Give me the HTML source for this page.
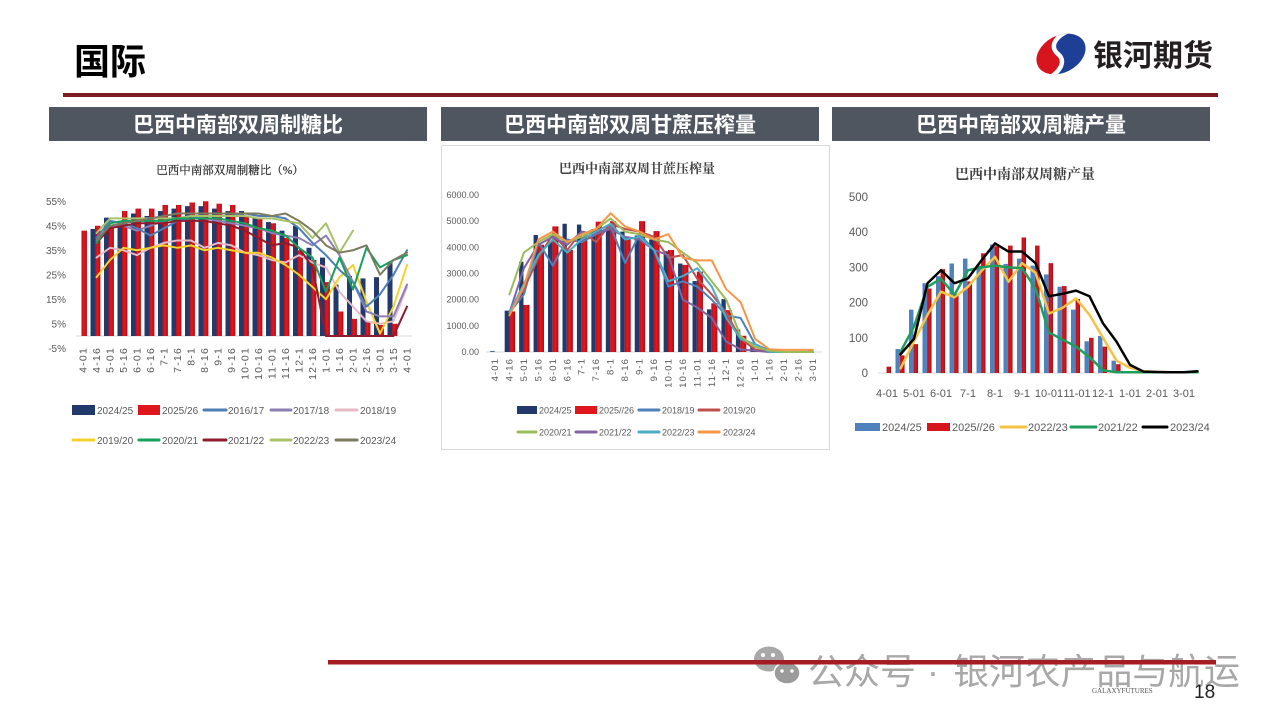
<!DOCTYPE html>
<html><head><meta charset="utf-8"><title>国际</title>
<style>
html,body{margin:0;padding:0;background:#fff;}
body{width:1280px;height:720px;overflow:hidden;}
svg{display:block;}
.cjk{font-family:"Liberation Sans","Noto Sans CJK SC",sans-serif;}
.serif{font-family:"Liberation Serif","Noto Serif CJK SC",serif;}
.ax{font-family:"Liberation Sans",sans-serif;fill:#595959;}
.ln{fill:none;vector-effect:non-scaling-stroke;stroke-linejoin:round;stroke-linecap:round;}
</style></head>
<body>
<svg width="1280" height="720" viewBox="0 0 1280 720" xmlns="http://www.w3.org/2000/svg">
<defs>
<linearGradient id="rg" x1="0" y1="0" x2="1" y2="0">
<stop offset="0" stop-color="#b0111a"/><stop offset="0.45" stop-color="#e8161e"/><stop offset="1" stop-color="#a80f16"/>
</linearGradient>
<linearGradient id="rg3" x1="0" y1="0" x2="1" y2="0">
<stop offset="0" stop-color="#a5141b"/><stop offset="0.5" stop-color="#e0141c"/><stop offset="1" stop-color="#9c1118"/>
</linearGradient>
<clipPath id="lg"><ellipse cx="1061" cy="54" rx="26" ry="18.5" transform="rotate(-28 1061 54)"/></clipPath>
</defs>

<!-- Header -->
<text x="74" y="74" class="cjk" font-size="36" font-weight="bold" fill="#000">国际</text>
<!-- logo -->
<g clip-path="url(#lg)">
<path d="M1000,20 L1080,28 C1062,30 1046,44 1058,54 C1068,62 1058,76 1040,82 L1000,90 Z" fill="#d7151e"/>
<path d="M1080,28 L1120,20 L1120,90 L1040,82 C1058,76 1068,62 1058,54 C1046,44 1062,30 1080,28 Z" fill="#1e3f96"/>
<path d="M1080,28 C1062,30 1046,44 1058,54 C1068,62 1058,76 1040,82" fill="none" stroke="#fff" stroke-width="4.5"/>
</g>
<text x="1093" y="66" class="cjk" font-size="30" font-weight="bold" fill="#231f20">银河期货</text>
<rect x="63" y="93" width="1155" height="4" fill="#7d1c21"/>

<!-- Section header boxes -->
<rect x="49" y="107" width="378" height="34" fill="#4f5660"/>
<rect x="441" y="107" width="378" height="34" fill="#4f5660"/>
<rect x="832" y="107" width="378" height="34" fill="#4f5660"/>
<text x="238" y="132" text-anchor="middle" class="cjk" font-size="21" font-weight="bold" fill="#fff">巴西中南部双周制糖比</text>
<text x="630" y="132" text-anchor="middle" class="cjk" font-size="21" font-weight="bold" fill="#fff">巴西中南部双周甘蔗压榨量</text>
<text x="1021" y="132" text-anchor="middle" class="cjk" font-size="21" font-weight="bold" fill="#fff">巴西中南部双周糖产量</text>

<!-- ===================== CHART 1 ===================== -->
<text x="230" y="174" text-anchor="middle" class="serif" font-size="11.5" fill="#262626" stroke="#262626" stroke-width="0.2">巴西中南部双周制糖比（%）</text>
<g class="ax" font-size="10" text-anchor="end">
<text x="66" y="205">55%</text>
<text x="66" y="229.5">45%</text>
<text x="66" y="254">35%</text>
<text x="66" y="278.5">25%</text>
<text x="66" y="303">15%</text>
<text x="66" y="327.5">5%</text>
<text x="66" y="352">-5%</text>
</g>
<line x1="76" y1="336" x2="412" y2="336" stroke="#d9d9d9" stroke-width="1"/>
<g transform="translate(83,336) scale(13.5,-2.45)">
<g fill="#213a6b">
<rect x="0.556" y="0" width="0.37" height="43.7"/>
<rect x="1.556" y="0" width="0.37" height="48.3"/>
<rect x="2.556" y="0" width="0.37" height="47"/>
<rect x="3.556" y="0" width="0.37" height="50"/>
<rect x="4.556" y="0" width="0.37" height="49"/>
<rect x="5.556" y="0" width="0.37" height="51"/>
<rect x="6.556" y="0" width="0.37" height="52"/>
<rect x="7.556" y="0" width="0.37" height="53"/>
<rect x="8.556" y="0" width="0.37" height="53"/>
<rect x="9.556" y="0" width="0.37" height="52"/>
<rect x="10.556" y="0" width="0.37" height="51"/>
<rect x="11.556" y="0" width="0.37" height="51"/>
<rect x="12.556" y="0" width="0.37" height="48"/>
<rect x="13.556" y="0" width="0.37" height="46.5"/>
<rect x="14.556" y="0" width="0.37" height="43"/>
<rect x="15.556" y="0" width="0.37" height="45"/>
<rect x="16.556" y="0" width="0.37" height="36"/>
<rect x="17.556" y="0" width="0.37" height="32"/>
<rect x="18.556" y="0" width="0.37" height="21"/>
<rect x="19.556" y="0" width="0.37" height="24.5"/>
<rect x="20.556" y="0" width="0.37" height="23.5"/>
<rect x="21.556" y="0" width="0.37" height="24"/>
<rect x="22.556" y="0" width="0.37" height="30"/>
</g>
<g fill="url(#rg)">
<rect x="-0.111" y="0" width="0.4" height="43"/>
<rect x="0.889" y="0" width="0.4" height="45"/>
<rect x="1.889" y="0" width="0.4" height="45"/>
<rect x="2.889" y="0" width="0.4" height="51"/>
<rect x="3.889" y="0" width="0.4" height="52"/>
<rect x="4.889" y="0" width="0.4" height="52"/>
<rect x="5.889" y="0" width="0.4" height="53.5"/>
<rect x="6.889" y="0" width="0.4" height="53.5"/>
<rect x="7.889" y="0" width="0.4" height="54.5"/>
<rect x="8.889" y="0" width="0.4" height="55"/>
<rect x="9.889" y="0" width="0.4" height="54"/>
<rect x="10.889" y="0" width="0.4" height="53.5"/>
<rect x="11.889" y="0" width="0.4" height="49"/>
<rect x="12.889" y="0" width="0.4" height="48"/>
<rect x="13.889" y="0" width="0.4" height="46"/>
<rect x="14.889" y="0" width="0.4" height="40"/>
<rect x="15.889" y="0" width="0.4" height="35"/>
<rect x="16.889" y="0" width="0.4" height="31"/>
<rect x="17.889" y="0" width="0.4" height="22"/>
<rect x="18.889" y="0" width="0.4" height="10"/>
<rect x="19.889" y="0" width="0.4" height="7"/>
<rect x="20.889" y="0" width="0.4" height="6"/>
<rect x="21.889" y="0" width="0.4" height="4.5"/>
<rect x="22.889" y="0" width="0.4" height="5"/>
</g>
<g stroke-width="2">
<polyline class="ln" stroke="#e7b9c6" points="1,32 2,36 3,35 4,33 5,36 6,38 7,39 8,39 9,36 10,38 11,37 12,34 13,33 14,31 15,30 16,33 17,30 18,28 19,18 20,12 21,6 22,5 23,6 24,20"/>
<polyline class="ln" stroke="#f5d22c" points="1,24 2,31 3,36 4,35 5,36 6,37 7,36 8,37 9,35 10,36 11,35 12,34 13,34 14,32 15,29 16,25 17,20 18,15 19,24 20,29 21,14 22,1 23,12 24,29"/>
<polyline class="ln" stroke="#8d7fb5" points="1,38 2,45 3,45 4,43 5,45 6,47 7,48 8,49 9,48 10,47 11,46 12,45 13,44 14,42 15,41 16,40 17,37 18,41 19,33 20,22 21,10 22,8 23,8 24,21"/>
<polyline class="ln" stroke="#4f7eb5" points="1,40 2,47 3,46 4,44 5,41 6,44 7,47 8,48 9,49 10,49 11,49 12,50 13,49 14,49 15,48 16,44 17,38 18,33 19,27 20,22 21,12 22,17 23,25 24,35"/>
<polyline class="ln" stroke="#8e1b2e" points="1,38 2,44 3,45 4,46 5,46 6,46 7,47 8,47 9,47 10,46 11,45 12,43 13,40 14,37 15,38 16,36 17,28 18,0 19,0 20,0 21,0 22,0 23,0 24,12"/>
<polyline class="ln" stroke="#a9c26a" points="1,42 2,48 3,48 4,48 5,48 6,48 7,48 8,49 9,49 10,49 11,49 12,49 13,48 14,48 15,47 16,46 17,40 18,46 19,34 20,43"/>
<polyline class="ln" stroke="#17a05d" points="1,38 2,46 3,47 4,47 5,47 6,47 7,48 8,48 9,48 10,48 11,47 12,46 13,44 14,43 15,41 16,36 17,32 18,18 19,32 20,19 21,36 22,28 23,31 24,33"/>
<polyline class="ln" stroke="#7b7b5f" points="1,39 2,45 3,46 4,47 5,48 6,49 7,50 8,50 9,50 10,50 11,50 12,50 13,50 14,49 15,50 16,47 17,43 18,37 19,34 20,35 21,37 22,25 23,31 24,34"/>
</g>
</g>
<g class="ax" font-size="10.5" letter-spacing="1.2" text-anchor="end">
<text transform="translate(86.5,347) rotate(-90)">4-01</text>
<text transform="translate(100,347) rotate(-90)">4-16</text>
<text transform="translate(113.5,347) rotate(-90)">5-01</text>
<text transform="translate(127,347) rotate(-90)">5-16</text>
<text transform="translate(140.5,347) rotate(-90)">6-01</text>
<text transform="translate(154,347) rotate(-90)">6-16</text>
<text transform="translate(167.5,347) rotate(-90)">7-1</text>
<text transform="translate(181,347) rotate(-90)">7-16</text>
<text transform="translate(194.5,347) rotate(-90)">8-1</text>
<text transform="translate(208,347) rotate(-90)">8-16</text>
<text transform="translate(221.5,347) rotate(-90)">9-1</text>
<text transform="translate(235,347) rotate(-90)">9-16</text>
<text transform="translate(248.5,347) rotate(-90)">10-01</text>
<text transform="translate(262,347) rotate(-90)">10-16</text>
<text transform="translate(275.5,347) rotate(-90)">11-01</text>
<text transform="translate(289,347) rotate(-90)">11-16</text>
<text transform="translate(302.5,347) rotate(-90)">12-1</text>
<text transform="translate(316,347) rotate(-90)">12-16</text>
<text transform="translate(329.5,347) rotate(-90)">1-01</text>
<text transform="translate(343,347) rotate(-90)">1-16</text>
<text transform="translate(356.5,347) rotate(-90)">2-01</text>
<text transform="translate(370,347) rotate(-90)">2-16</text>
<text transform="translate(383.5,347) rotate(-90)">3-01</text>
<text transform="translate(397,347) rotate(-90)">3-15</text>
<text transform="translate(410.5,347) rotate(-90)">4-01</text>
</g>
<!-- legend 1 -->
<rect x="72" y="405" width="23" height="10" fill="#213a6b"/>
<rect x="138" y="405" width="22" height="10" fill="#e0161d"/>
<g stroke-width="3" stroke-linecap="round">
<line x1="204" y1="410" x2="226" y2="410" stroke="#4f7eb5"/>
<line x1="271" y1="410" x2="291" y2="410" stroke="#8d7fb5"/>
<line x1="336" y1="410" x2="357" y2="410" stroke="#e7b9c6"/>
<line x1="73" y1="440" x2="94" y2="440" stroke="#f5d22c"/>
<line x1="139" y1="440" x2="159" y2="440" stroke="#17a05d"/>
<line x1="204" y1="440" x2="226" y2="440" stroke="#8e1b2e"/>
<line x1="271" y1="440" x2="291" y2="440" stroke="#a9c26a"/>
<line x1="336" y1="440" x2="357" y2="440" stroke="#7b7b5f"/>
</g>
<g class="ax" font-size="10">
<text x="97" y="414">2024/25</text>
<text x="162" y="414">2025/26</text>
<text x="228" y="414">2016/17</text>
<text x="293" y="414">2017/18</text>
<text x="360" y="414">2018/19</text>
<text x="97" y="444">2019/20</text>
<text x="162" y="444">2020/21</text>
<text x="228" y="444">2021/22</text>
<text x="293" y="444">2022/23</text>
<text x="360" y="444">2023/24</text>
</g>

<!-- ===================== CHART 2 ===================== -->
<rect x="441.5" y="145.5" width="388" height="304" fill="none" stroke="#d9d9d9" stroke-width="1"/>
<text x="637" y="173" text-anchor="middle" class="serif" font-size="13" font-weight="bold" fill="#404040">巴西中南部双周甘蔗压榨量</text>
<g class="ax" font-size="9" text-anchor="end">
<text x="479" y="198">6000.00</text>
<text x="479" y="224.2">5000.00</text>
<text x="479" y="250.3">4000.00</text>
<text x="479" y="276.5">3000.00</text>
<text x="479" y="302.7">2000.00</text>
<text x="479" y="328.8">1000.00</text>
<text x="479" y="355">0.00</text>
</g>
<line x1="486" y1="352" x2="822" y2="352" stroke="#d9d9d9" stroke-width="1"/>
<g transform="translate(495,352) scale(14.45,-0.02617)">
<g fill="#213a6b">
<rect x="-0.33" y="0" width="0.3" height="30"/>
<rect x="0.67" y="0" width="0.3" height="1580"/>
<rect x="1.67" y="0" width="0.3" height="3450"/>
<rect x="2.67" y="0" width="0.3" height="4470"/>
<rect x="3.67" y="0" width="0.3" height="4200"/>
<rect x="4.67" y="0" width="0.3" height="4900"/>
<rect x="5.67" y="0" width="0.3" height="4870"/>
<rect x="6.67" y="0" width="0.3" height="4700"/>
<rect x="7.67" y="0" width="0.3" height="4800"/>
<rect x="8.67" y="0" width="0.3" height="4600"/>
<rect x="9.67" y="0" width="0.3" height="4450"/>
<rect x="10.67" y="0" width="0.3" height="4300"/>
<rect x="11.67" y="0" width="0.3" height="3850"/>
<rect x="12.67" y="0" width="0.3" height="3380"/>
<rect x="13.67" y="0" width="0.3" height="2710"/>
<rect x="14.67" y="0" width="0.3" height="1630"/>
<rect x="15.67" y="0" width="0.3" height="2020"/>
<rect x="16.67" y="0" width="0.3" height="860"/>
<rect x="17.67" y="0" width="0.3" height="180"/>
<rect x="21.67" y="0" width="0.3" height="70"/>
</g>
<g fill="url(#rg)">
<rect x="-0.03" y="0" width="0.42" height="1550" transform="translate(1,0)"/>
<rect x="1.97" y="0" width="0.42" height="1800"/>
<rect x="2.97" y="0" width="0.42" height="4100"/>
<rect x="3.97" y="0" width="0.42" height="4800"/>
<rect x="4.97" y="0" width="0.42" height="3900"/>
<rect x="5.97" y="0" width="0.42" height="4450"/>
<rect x="6.97" y="0" width="0.42" height="4980"/>
<rect x="7.97" y="0" width="0.42" height="5000"/>
<rect x="8.97" y="0" width="0.42" height="4400"/>
<rect x="9.97" y="0" width="0.42" height="5000"/>
<rect x="10.97" y="0" width="0.42" height="4620"/>
<rect x="11.97" y="0" width="0.42" height="3900"/>
<rect x="12.97" y="0" width="0.42" height="3330"/>
<rect x="13.97" y="0" width="0.42" height="3070"/>
<rect x="14.97" y="0" width="0.42" height="1860"/>
<rect x="15.97" y="0" width="0.42" height="1600"/>
<rect x="16.97" y="0" width="0.42" height="620"/>
<rect x="17.97" y="0" width="0.42" height="60"/>
</g>
<g stroke-width="2">
<polyline class="ln" stroke="#4f81bd" points="1,1500 2,2200 3,4200 4,3300 5,4300 6,4200 7,4500 8,4800 9,3400 10,4500 11,3900 12,2500 13,2700 14,2500 15,2000 16,1400 17,1300 18,300 19,50 20,0 21,0 22,0"/>
<polyline class="ln" stroke="#c0504d" points="1,1500 2,2400 3,3600 4,4500 5,3900 6,4600 7,4200 8,4900 9,4700 10,4600 11,4400 12,3600 13,3700 14,2800 15,2200 16,1500 17,500 18,100 19,0 20,0 21,0 22,0"/>
<polyline class="ln" stroke="#8064a2" points="1,1500 2,3200 3,4100 4,4400 5,4100 6,4600 7,4500 8,4700 9,4400 10,4300 11,3900 12,3700 13,2000 14,1700 15,1300 16,400 17,100 18,50 19,0 20,0 21,0 22,0"/>
<polyline class="ln" stroke="#4bacc6" points="1,1500 2,2600 3,3700 4,4300 5,3800 6,4300 7,4600 8,4900 9,4300 10,4400 11,3900 12,2700 13,2900 14,3200 15,2500 16,1300 17,500 18,300 19,0 20,0 21,0 22,0"/>
<polyline class="ln" stroke="#9bbb59" points="1,2200 2,3800 3,4200 4,4500 5,4200 6,4400 7,4700 8,5100 9,4600 10,4500 11,4300 12,4200 13,3800 14,3400 15,2700 16,2000 17,600 18,200 19,50 20,0 21,0 22,0"/>
<polyline class="ln" stroke="#f79646" points="1,1400 2,2500 3,4300 4,4600 5,4200 6,4500 7,4700 8,5300 9,4800 10,4600 11,4300 12,4500 13,3600 14,3500 15,3500 16,2400 17,1900 18,500 19,100 20,80 21,80 22,80"/>
</g>
</g>
<g class="ax" font-size="9.5" letter-spacing="1.1" text-anchor="end">
<text transform="translate(498,358) rotate(-90)">4-01</text>
<text transform="translate(512.5,358) rotate(-90)">4-16</text>
<text transform="translate(526.9,358) rotate(-90)">5-01</text>
<text transform="translate(541.4,358) rotate(-90)">5-16</text>
<text transform="translate(555.8,358) rotate(-90)">6-01</text>
<text transform="translate(570.3,358) rotate(-90)">6-16</text>
<text transform="translate(584.7,358) rotate(-90)">7-1</text>
<text transform="translate(599.2,358) rotate(-90)">7-16</text>
<text transform="translate(613.6,358) rotate(-90)">8-1</text>
<text transform="translate(628.1,358) rotate(-90)">8-16</text>
<text transform="translate(642.5,358) rotate(-90)">9-1</text>
<text transform="translate(657,358) rotate(-90)">9-16</text>
<text transform="translate(671.4,358) rotate(-90)">10-01</text>
<text transform="translate(685.9,358) rotate(-90)">10-16</text>
<text transform="translate(700.3,358) rotate(-90)">11-01</text>
<text transform="translate(714.8,358) rotate(-90)">11-16</text>
<text transform="translate(729.2,358) rotate(-90)">12-1</text>
<text transform="translate(743.7,358) rotate(-90)">12-16</text>
<text transform="translate(758.1,358) rotate(-90)">1-01</text>
<text transform="translate(772.6,358) rotate(-90)">1-16</text>
<text transform="translate(787,358) rotate(-90)">2-01</text>
<text transform="translate(801.5,358) rotate(-90)">2-16</text>
<text transform="translate(815.9,358) rotate(-90)">3-01</text>
</g>
<!-- legend 2 -->
<rect x="517" y="406" width="20" height="8" fill="#213a6b"/>
<rect x="575" y="406" width="22" height="8" fill="#e0161d"/>
<g stroke-width="3" stroke-linecap="round">
<line x1="639" y1="410" x2="659" y2="410" stroke="#4f81bd"/>
<line x1="699" y1="410" x2="719" y2="410" stroke="#c0504d"/>
<line x1="518" y1="432" x2="536" y2="432" stroke="#9bbb59"/>
<line x1="576" y1="432" x2="596" y2="432" stroke="#8064a2"/>
<line x1="639" y1="432" x2="659" y2="432" stroke="#4bacc6"/>
<line x1="699" y1="432" x2="719" y2="432" stroke="#f79646"/>
</g>
<g class="ax" font-size="9">
<text x="539" y="413.5">2024/25</text>
<text x="599" y="413.5">2025//26</text>
<text x="662" y="413.5">2018/19</text>
<text x="723" y="413.5">2019/20</text>
<text x="539" y="435.5">2020/21</text>
<text x="599" y="435.5">2021/22</text>
<text x="662" y="435.5">2022/23</text>
<text x="723" y="435.5">2023/24</text>
</g>

<!-- ===================== CHART 3 ===================== -->
<text x="1025" y="179" text-anchor="middle" class="serif" font-size="14" font-weight="bold" fill="#404040">巴西中南部双周糖产量</text>
<g class="ax" font-size="11.5" text-anchor="end">
<text x="868" y="201">500</text>
<text x="868" y="236.2">400</text>
<text x="868" y="271.4">300</text>
<text x="868" y="306.6">200</text>
<text x="868" y="341.8">100</text>
<text x="868" y="377">0</text>
</g>
<line x1="878" y1="373" x2="1200" y2="373" stroke="#d9d9d9" stroke-width="1"/>
<g transform="translate(887,373) scale(13.5,-0.352)">
<g fill="#4f81bd">
<rect x="0.63" y="0" width="0.33" height="68"/>
<rect x="1.63" y="0" width="0.33" height="180"/>
<rect x="2.63" y="0" width="0.33" height="255"/>
<rect x="3.63" y="0" width="0.33" height="275"/>
<rect x="4.63" y="0" width="0.33" height="311"/>
<rect x="5.63" y="0" width="0.33" height="325"/>
<rect x="6.63" y="0" width="0.33" height="305"/>
<rect x="7.63" y="0" width="0.33" height="365"/>
<rect x="8.63" y="0" width="0.33" height="310"/>
<rect x="9.63" y="0" width="0.33" height="325"/>
<rect x="10.63" y="0" width="0.33" height="305"/>
<rect x="11.63" y="0" width="0.33" height="280"/>
<rect x="12.63" y="0" width="0.33" height="245"/>
<rect x="13.63" y="0" width="0.33" height="180"/>
<rect x="14.63" y="0" width="0.33" height="90"/>
<rect x="15.63" y="0" width="0.33" height="105"/>
<rect x="16.63" y="0" width="0.33" height="35"/>
<rect x="17.63" y="0" width="0.33" height="5"/>
</g>
<g fill="url(#rg3)">
<rect x="-0.03" y="0" width="0.33" height="18"/>
<rect x="0.97" y="0" width="0.33" height="50"/>
<rect x="1.97" y="0" width="0.33" height="82"/>
<rect x="2.97" y="0" width="0.33" height="240"/>
<rect x="3.97" y="0" width="0.33" height="295"/>
<rect x="4.97" y="0" width="0.33" height="225"/>
<rect x="5.97" y="0" width="0.33" height="260"/>
<rect x="6.97" y="0" width="0.33" height="340"/>
<rect x="7.97" y="0" width="0.33" height="360"/>
<rect x="8.97" y="0" width="0.33" height="362"/>
<rect x="9.97" y="0" width="0.33" height="385"/>
<rect x="10.97" y="0" width="0.33" height="362"/>
<rect x="11.97" y="0" width="0.33" height="312"/>
<rect x="12.97" y="0" width="0.33" height="247"/>
<rect x="13.97" y="0" width="0.33" height="210"/>
<rect x="14.97" y="0" width="0.33" height="100"/>
<rect x="15.97" y="0" width="0.33" height="75"/>
<rect x="16.97" y="0" width="0.33" height="25"/>
<rect x="17.97" y="0" width="0.33" height="3"/>
</g>
<g stroke-width="2.5">
<polyline class="ln" stroke="#f5c343" points="1,13 2,90 3,165 4,231 5,215 6,245 7,290 8,330 9,259 10,312 11,285 12,169 13,185 14,212 15,165 16,100 17,35 18,15 19,5 20,3 21,2 22,2 23,2"/>
<polyline class="ln" stroke="#1e9e5e" points="1,60 2,132 3,245 4,268 5,222 6,292 7,300 8,305 9,300 10,298 11,240 12,115 13,95 14,75 15,45 16,8 17,2 18,2 19,2 20,2 21,2 22,2 23,2"/>
<polyline class="ln" stroke="#000000" points="1,53 2,97 3,255 4,292 5,255 6,269 7,320 8,368 9,345 10,345 11,312 12,218 13,225 14,234 15,218 16,141 17,89 18,23 19,4 20,3 21,2 22,2 23,5"/>
</g>
</g>
<g class="ax" font-size="11" text-anchor="middle">
<text x="887" y="397">4-01</text>
<text x="914" y="397">5-01</text>
<text x="941" y="397">6-01</text>
<text x="968" y="397">7-1</text>
<text x="995" y="397">8-1</text>
<text x="1022" y="397">9-1</text>
<text x="1049" y="397">10-01</text>
<text x="1077" y="397">11-01</text>
<text x="1103" y="397">12-1</text>
<text x="1130" y="397">1-01</text>
<text x="1157" y="397">2-01</text>
<text x="1184" y="397">3-01</text>
</g>
<!-- legend 3 -->
<rect x="855" y="423" width="25" height="8" fill="#4f81bd"/>
<rect x="927" y="423" width="23" height="8" fill="#d7151e"/>
<g stroke-width="3" stroke-linecap="round">
<line x1="1001" y1="427" x2="1026" y2="427" stroke="#f5c343"/>
<line x1="1071" y1="427" x2="1096" y2="427" stroke="#1e9e5e"/>
<line x1="1143" y1="427" x2="1167" y2="427" stroke="#000"/>
</g>
<g class="ax" font-size="11">
<text x="882" y="431">2024/25</text>
<text x="952" y="431">2025//26</text>
<text x="1028" y="431">2022/23</text>
<text x="1098" y="431">2021/22</text>
<text x="1170" y="431">2023/24</text>
</g>

<!-- Footer -->
<g opacity="0.85">
<ellipse cx="769" cy="659" rx="15" ry="12.5" fill="#9a9a9a"/>
<circle cx="763" cy="655" r="2" fill="#fff"/>
<circle cx="773" cy="655" r="2" fill="#fff"/>
<ellipse cx="787" cy="673" rx="13" ry="11" fill="#8a8a8a" stroke="#fff" stroke-width="1.5"/>
<circle cx="782" cy="671" r="1.7" fill="#fff"/>
<circle cx="792" cy="671" r="1.7" fill="#fff"/>
</g>
<text x="808" y="684" class="cjk" font-size="36" fill="#a8a8a8">公众号</text>
<text x="933" y="684" class="cjk" font-size="36" fill="#a8a8a8" text-anchor="middle">·</text>
<text x="953" y="684" class="cjk" font-size="36" fill="#a8a8a8" textLength="287" lengthAdjust="spacing">银河农产品与航运</text>
<rect x="328" y="660" width="888" height="4.5" fill="#a51d22"/>
<text x="1092" y="693" font-family="Liberation Serif, serif" font-size="7" fill="#555">GALAXYFUTURES</text>
<text x="1194" y="698" font-family="Liberation Sans, sans-serif" font-size="19" fill="#222">18</text>
</svg>
</body></html>
